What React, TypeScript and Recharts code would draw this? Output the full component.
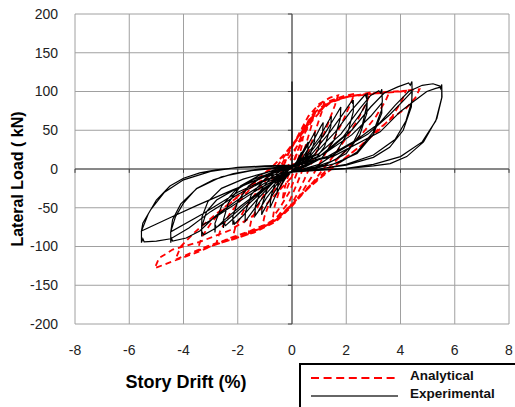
import React from "react";
import { ComposedChart, Line, XAxis, YAxis, CartesianGrid, ReferenceLine } from "recharts";

type P = [number, number];

const xTicks = [-8, -6, -4, -2, 0, 2, 4, 6, 8];
const yTicks = [-200, -150, -100, -50, 0, 50, 100, 150, 200];

// Experimental (black solid) cycles: [drift %, load kN]
const expStart: P[] = [[0, 0], [0, 113], [0, 0]];
const expA1: P[] = [[0.15, 8], [0.3, 18], [0.35, 22], [0.33, 14], [0.2, 5], [0, -2], [-0.15, -7], [-0.3, -15], [-0.35, -18], [-0.32, -11], [-0.18, -3], [0, 2]];
const expA2: P[] = [[0.2, 10], [0.45, 26], [0.6, 35], [0.58, 24], [0.4, 9], [0.15, 1], [0, -3], [-0.2, -10], [-0.45, -24], [-0.55, -30], [-0.52, -20], [-0.35, -7], [-0.1, 1], [0, 3]];
const expA3: P[] = [[0.3, 14], [0.6, 32], [0.85, 48], [0.83, 36], [0.65, 16], [0.35, 4], [0, -3], [-0.3, -14], [-0.6, -34], [-0.81, -50], [-0.78, -36], [-0.6, -16], [-0.3, -3], [0, 3]];
const expA4: P[] = [[0.4, 15], [0.8, 37], [1.05, 54], [1.15, 60], [1.13, 48], [0.95, 24], [0.6, 8], [0.25, 1], [0, -3], [-0.4, -16], [-0.8, -38], [-1.05, -54], [-1.12, -59], [-1.1, -46], [-0.9, -24], [-0.55, -8], [-0.2, 0], [0, 3]];
const expA5: P[] = [[0.5, 16], [1.0, 40], [1.35, 62], [1.45, 68], [1.43, 55], [1.2, 29], [0.8, 10], [0.35, 2], [0, -3], [-0.5, -17], [-0.95, -38], [-1.25, -55], [-1.37, -61], [-1.35, -48], [-1.15, -27], [-0.75, -10], [-0.3, 0], [0, 3]];
const expA6: P[] = [[0.6, 18], [1.2, 45], [1.6, 68], [1.75, 77], [1.8, 80], [1.78, 65], [1.55, 37], [1.1, 14], [0.5, 3], [0, -3], [-0.6, -18], [-1.1, -38], [-1.5, -57], [-1.73, -68], [-1.72, -56], [-1.5, -33], [-1.0, -13], [-0.45, -1], [0, 4]];
const expA7: P[] = [[0.7, 18], [1.4, 48], [1.9, 72], [2.15, 85], [2.22, 88], [2.24, 84], [2.26, 89], [2.26, 74], [2.05, 46], [1.6, 20], [1.0, 6], [0.4, 0], [0, -3], [-0.7, -18], [-1.3, -40], [-1.8, -60], [-2.12, -71], [-2.14, -68], [-2.18, -72], [-2.18, -61], [-2.0, -42], [-1.6, -22], [-1.0, -8], [-0.4, 1], [0, 4]];
const expA8: P[] = [[0.8, 18], [1.6, 48], [2.2, 76], [2.55, 90], [2.7, 96], [2.74, 92], [2.77, 98], [2.77, 84], [2.6, 58], [2.2, 30], [1.6, 12], [0.8, 2], [0, -3], [-0.8, -20], [-1.5, -42], [-2.1, -62], [-2.45, -73], [-2.5, -70], [-2.53, -76], [-2.53, -66], [-2.35, -44], [-1.9, -22], [-1.2, -8], [-0.5, 1], [0, 4]];
const expA8b: P[] = [[1.0, 16], [1.9, 42], [2.5, 70], [2.77, 86], [2.76, 72], [2.5, 44], [2.0, 20], [1.2, 5], [0.4, -1], [0, -3], [-1.0, -24], [-1.9, -48], [-2.5, -66], [-2.8, -76], [-2.82, -72], [-2.84, -82], [-2.84, -70], [-2.6, -48], [-2.1, -28], [-1.4, -13], [-0.6, -3], [0, 2]];
const expA9: P[] = [[1.0, 20], [1.8, 45], [2.5, 78], [2.9, 95], [3.2, 101], [3.26, 98], [3.31, 103], [3.33, 88], [3.3, 76], [3.0, 48], [2.4, 22], [1.8, 9], [0.9, 1], [0, -3], [-0.9, -22], [-1.7, -45], [-2.4, -66], [-2.9, -78], [-3.25, -85], [-3.3, -82], [-3.33, -87], [-3.33, -75], [-3.15, -55], [-2.78, -40], [-2.04, -25], [-1.18, -12], [-0.4, -2], [0, 2]];
const expA9b: P[] = [[1.2, 20], [2.2, 44], [2.9, 68], [3.31, 85], [3.31, 72], [3.0, 45], [2.4, 20], [1.5, 6], [0.5, -1], [0, -3], [-1.2, -25], [-2.3, -50], [-3.0, -66], [-3.33, -73], [-3.32, -62], [-3.1, -42], [-2.6, -25], [-1.8, -13], [-0.8, -3], [0, 2]];
const expA10: P[] = [[1.2, 20], [2.2, 50], [2.9, 80], [3.4, 98], [3.9, 106], [4.3, 111], [4.36, 108], [4.42, 113], [4.43, 98], [4.4, 80], [4.1, 50], [3.6, 28], [3.0, 15], [2.0, 5], [1.0, 0], [0, -4], [-1.0, -18], [-2.0, -40], [-2.8, -60], [-3.4, -80], [-3.9, -89], [-4.4, -93], [-4.44, -90], [-4.47, -95], [-4.47, -81], [-4.3, -62], [-4.0, -44], [-3.52, -25], [-2.9, -14], [-2.16, -6], [-1.2, 0], [0, 4]];
const expA10b: P[] = [[1.5, 18], [2.8, 45], [3.6, 70], [4.1, 88], [4.42, 100], [4.42, 88], [4.2, 62], [3.8, 38], [3.0, 18], [2.0, 6], [1.0, 0], [0, -3], [-1.0, -14], [-2.0, -30], [-3.3, -58], [-4.47, -81], [-4.4, -65], [-4.1, -45], [-3.5, -25], [-2.6, -10], [-1.5, -2], [0, 3]];
const expA11: P[] = [[1.2, 14], [2.4, 38], [3.25, 60], [3.8, 82], [4.3, 100], [4.8, 108], [5.2, 110], [5.45, 107], [5.48, 104], [5.52, 109], [5.53, 93], [5.34, 65], [4.85, 35], [4.23, 16], [3.62, 7], [3.0, 4], [1.9, 0], [0.8, -2], [0, -4], [-1.0, -15], [-2.0, -33], [-3.0, -55], [-3.8, -76], [-4.47, -90], [-5.0, -93], [-5.45, -94], [-5.5, -90], [-5.55, -95], [-5.55, -80], [-5.3, -58], [-5.0, -40], [-4.5, -22], [-4.0, -12], [-3.4, -5], [-2.8, -1], [-1.9, 2], [-0.93, 3], [0, 5]];
const expA11b: P[] = [[1.5, 16], [3.25, 48], [3.99, 74], [4.48, 87], [4.97, 100], [5.3, 104], [5.52, 106], [5.52, 92], [5.3, 62], [4.8, 35], [4.0, 16], [3.0, 6], [2.0, 1], [1.0, -1], [0, -3], [-1.0, -10], [-2.18, -27], [-3.5, -47], [-4.5, -63], [-5.55, -80], [-5.5, -70], [-5.2, -52], [-4.7, -30], [-4.0, -14], [-3.0, -3], [-2.0, 2], [-1.0, 4], [0, 5]];

// Analytical (red dashed) cycles
const anaR1: P[] = [[0, 0], [0.2, 22], [0.4, 40], [0.35, 28], [0.2, 10], [0.05, -5], [-0.15, -22], [-0.35, -40], [-0.3, -28], [-0.15, -10], [0, 5]];
const anaR2: P[] = [[0.3, 32], [0.6, 57], [0.8, 70], [0.72, 56], [0.5, 30], [0.3, 8], [0.15, -8], [-0.1, -30], [-0.45, -50], [-0.7, -62], [-0.64, -48], [-0.45, -26], [-0.25, -5], [-0.05, 12]];
const anaR3: P[] = [[0.25, 35], [0.6, 62], [0.95, 80], [1.2, 88], [1.1, 74], [0.85, 48], [0.6, 22], [0.4, 0], [0.2, -18], [-0.1, -42], [-0.5, -60], [-0.85, -70], [-1.1, -75], [-1.02, -62], [-0.8, -40], [-0.55, -18], [-0.3, 5], [-0.1, 22]];
const anaR4: P[] = [[0.25, 45], [0.6, 68], [1.0, 84], [1.4, 92], [1.7, 95], [1.58, 82], [1.3, 56], [1.0, 30], [0.7, 6], [0.45, -14], [0.2, -32], [-0.1, -50], [-0.6, -66], [-1.1, -76], [-1.6, -83], [-1.5, -66], [-1.2, -44], [-0.9, -24], [-0.55, -4], [-0.25, 14], [0, 28]];
const anaR5: P[] = [[0.4, 52], [0.9, 75], [1.4, 88], [1.9, 94], [2.3, 97], [2.17, 85], [1.85, 60], [1.5, 36], [1.1, 12], [0.8, -6], [0.4, -28], [0, -48], [-0.5, -65], [-1.2, -78], [-1.8, -86], [-2.2, -90], [-2.08, -74], [-1.75, -52], [-1.35, -32], [-0.9, -12], [-0.5, 6], [-0.1, 25], [0.3, 45]];
const anaR6: P[] = [[0.8, 70], [1.4, 86], [2.0, 93], [2.5, 96], [2.9, 99], [2.75, 86], [2.4, 62], [2.0, 40], [1.6, 20], [1.2, 2], [0.8, -16], [0.4, -32], [0, -48], [-0.6, -68], [-1.4, -82], [-2.2, -91], [-2.8, -97], [-2.65, -80], [-2.3, -58], [-1.85, -38], [-1.35, -18], [-0.8, 0], [-0.3, 18], [0.2, 40]];
const anaR7: P[] = [[0.7, 65], [1.3, 84], [2.0, 93], [2.8, 97], [3.3, 99], [3.6, 100], [3.45, 88], [3.1, 68], [2.6, 46], [2.1, 28], [1.6, 10], [1.2, -4], [0.7, -20], [0.3, -34], [0, -46], [-0.7, -68], [-1.6, -84], [-2.5, -94], [-3.1, -101], [-3.5, -106], [-3.33, -88], [-2.95, -68], [-2.45, -50], [-1.9, -32], [-1.3, -14], [-0.7, 4], [-0.2, 22], [0.3, 42]];
const anaR8: P[] = [[0.8, 68], [1.5, 88], [2.3, 95], [3.2, 98], [3.8, 100], [4.2, 101], [4.05, 88], [3.7, 68], [3.2, 50], [2.6, 32], [2.0, 15], [1.5, 2], [1.0, -12], [0.5, -28], [0.1, -42], [-0.5, -62], [-1.3, -78], [-2.2, -89], [-3.0, -98], [-3.7, -108], [-4.3, -117], [-4.1, -100], [-3.6, -82], [-3.0, -64], [-2.3, -44], [-1.6, -26], [-0.9, -10], [-0.3, 6], [0.2, 30]];
const anaR9: P[] = [[0.7, 60], [1.3, 85], [2.0, 93], [3.0, 97], [4.0, 100], [4.4, 102], [4.7, 103], [4.55, 92], [4.2, 78], [3.73, 67], [3.0, 46], [2.5, 29], [1.8, 10], [1.28, -5], [0.66, -23], [0.3, -35], [0, -46], [-0.6, -66], [-1.55, -80], [-2.29, -89], [-3.46, -107], [-4.39, -119], [-5.06, -128], [-4.9, -115], [-4.4, -104], [-3.4, -94], [-2.29, -79], [-1.5, -62], [-0.93, -45], [-0.4, -25], [0, -10]];

const experimentalCycles = [expStart, expA1, expA2, expA3, expA4, expA5, expA6, expA7, expA8, expA8b, expA9, expA9b, expA10, expA10b, expA11, expA11b];
const analyticalCycles = [anaR1, anaR2, anaR3, anaR4, anaR5, anaR6, anaR7, anaR8, anaR9];

const toRows = (cycles: P[][]) => cycles.flat().map(([x, y]) => ({ x, y }));
const experimentalData = toRows(experimentalCycles);
const analyticalData = toRows(analyticalCycles);

const FONT = "'Liberation Sans', Arial, sans-serif";

export default function App() {
  return (
    <div style={{ position: "absolute", left: 0, top: 0, width: 515, height: 407, overflow: "hidden", background: "#fff", fontFamily: FONT }}>
      <ComposedChart width={515} height={407} margin={{ top: 14, right: 6, left: 0, bottom: 53 }}>
        <CartesianGrid stroke="#a0a0a0" strokeWidth={1} horizontalValues={yTicks} verticalValues={xTicks} />
        <XAxis
          dataKey="x"
          type="number"
          domain={[-8, 8]}
          ticks={xTicks}
          allowDataOverflow
          axisLine={false}
          tickLine={false}
          tickSize={0}
          tickMargin={21}
          height={30}
          tick={{ fill: "#222", fontSize: 14, fontFamily: FONT }}
        />
        <YAxis
          type="number"
          domain={[-200, 200]}
          ticks={yTicks}
          allowDataOverflow
          axisLine={false}
          tickLine={false}
          tickSize={0}
          tickMargin={17}
          width={75}
          tick={{ fill: "#222", fontSize: 14, fontFamily: FONT }}
        />
        <ReferenceLine x={0} stroke="#404040" strokeWidth={1} />
        <ReferenceLine y={0} stroke="#404040" strokeWidth={1} />
        {yTicks.map((t) => (
          <ReferenceLine key={"yt" + t} segment={[{ x: -0.15, y: t }, { x: 0, y: t }]} stroke="#404040" />
        ))}
        {xTicks.map((t) => (
          <ReferenceLine key={"xt" + t} segment={[{ x: t, y: 0 }, { x: t, y: -5 }]} stroke="#404040" />
        ))}
        <Line
          data={analyticalData}
          dataKey="y"
          type="linear"
          dot={false}
          activeDot={false}
          stroke="#ff0000"
          strokeWidth={1.8}
          strokeDasharray="6 4"
          isAnimationActive={false}
        />
        <Line
          data={experimentalData}
          dataKey="y"
          type="linear"
          dot={false}
          activeDot={false}
          stroke="#000000"
          strokeWidth={1.2}
          isAnimationActive={false}
        />
      </ComposedChart>

      <div
        style={{
          position: "absolute",
          left: 18 - 100,
          top: 179 - 10,
          width: 200,
          height: 20,
          lineHeight: "20px",
          textAlign: "center",
          transform: "rotate(-90deg)",
          fontWeight: "bold",
          fontSize: 16,
          color: "#000",
          whiteSpace: "nowrap",
        }}
      >
        Lateral Load ( kN)
      </div>
      <div
        style={{
          position: "absolute",
          left: 186 - 100,
          top: 382 - 12,
          width: 200,
          height: 24,
          lineHeight: "24px",
          textAlign: "center",
          fontWeight: "bold",
          fontSize: 18,
          color: "#000",
          whiteSpace: "nowrap",
        }}
      >
        Story Drift (%)
      </div>

      <div
        style={{
          position: "absolute",
          left: 299,
          top: 363,
          width: 240,
          height: 80,
          borderTop: "2px solid #000",
          borderLeft: "2px solid #000",
          boxSizing: "border-box",
        }}
      >
        <svg width={100} height={40} style={{ position: "absolute", left: 9, top: 4 }}>
          <line x1={1} y1={9} x2={88} y2={9} stroke="#ff0000" strokeWidth={2} strokeDasharray="8 4.6" />
          <line x1={1} y1={27} x2={88} y2={27} stroke="#333" strokeWidth={1.5} />
        </svg>
        <div style={{ position: "absolute", left: 109, top: 3, fontSize: 13.5, fontWeight: "bold", color: "#111", lineHeight: "16px", whiteSpace: "nowrap" }}>
          Analytical
        </div>
        <div style={{ position: "absolute", left: 109, top: 21, fontSize: 13.5, fontWeight: "bold", color: "#111", lineHeight: "16px", whiteSpace: "nowrap" }}>
          Experimental
        </div>
      </div>
    </div>
  );
}
